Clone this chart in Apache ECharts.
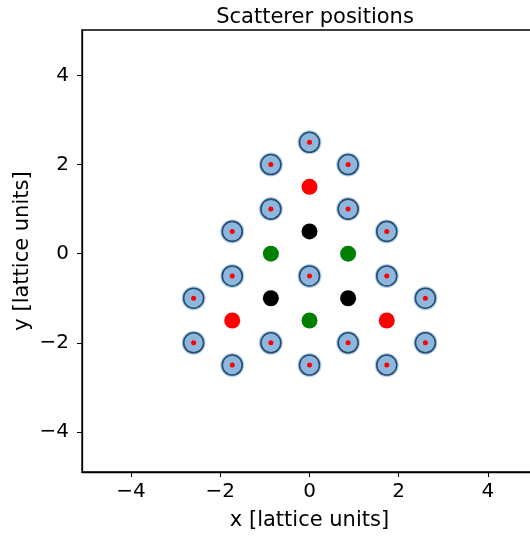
<!DOCTYPE html>
<html><head><meta charset="utf-8">
<script src="https://cdn.jsdelivr.net/npm/echarts@6/dist/echarts.min.js"></script>
<style>html,body{margin:0;padding:0;background:#fff}#c{width:530px;height:539px}</style>
</head><body><div id="c"></div>
<script>
const scattererX = [0, -0.866, 0.866, -0.866, 0.866, -1.732, 1.732, -1.732, 0, 1.732, -2.598, 2.598, -2.598, -0.866, 0.866, 2.598, -1.732, 0, 1.732];
const scattererY = [2.5, 2, 2, 1, 1, 0.5, 0.5, -0.5, -0.5, -0.5, -1, -1, -2, -2, -2, -2, -2.5, -2.5, -2.5];
const redX = [0, -1.732, 1.732];
const redY = [1.5, -1.5, -1.5];
const blackX = [0, -0.866, 0.866];
const blackY = [0.5, -1, -1];
const greenX = [-0.866, 0.866, 0];
const greenY = [0, 0, -1.5];
const xTicks = [-4, -2, 0, 2, 4];
const yTicks = [-4, -2, 0, 2, 4];

const zip = (xs, ys) => xs.map((x, i) => [x, ys[i]]);
const font = 'DejaVu Sans';
const fmt = v => (v < 0 ? '\u2212' + (-v) : '' + v);
const chart = echarts.init(document.getElementById('c'));
chart.setOption({
  animation: false,
  title: { text: 'Scatterer positions', left: 310, top: 2, textAlign: 'center',
    textStyle: { fontFamily: font, fontSize: 21, fontWeight: 'normal', color: '#000' } },
  grid: { left: 82, top: 30, width: 455, height: 442, outerBoundsMode: 'none', containLabel: false,
    show: true, borderColor: '#000', borderWidth: 1.3, backgroundColor: 'transparent' },
  xAxis: {
    type: 'value', min: -5.1, max: 5.1,
    name: 'x [lattice units]', nameLocation: 'middle', nameGap: 38,
    nameTextStyle: { fontFamily: font, fontSize: 21, color: '#000' },
    axisLine: { onZero: false, lineStyle: { color: '#000', width: 1.3 } },
    axisTick: { show: true, length: 5, lineStyle: { color: '#000' }, customValues: xTicks },
    axisLabel: { fontFamily: font, fontSize: 20, color: '#000', margin: 10, customValues: xTicks, formatter: fmt },
    splitLine: { show: false }
  },
  yAxis: {
    type: 'value', min: -4.9, max: 5.02,
    name: 'y [lattice units]', nameLocation: 'middle', nameGap: 49, nameMoveOverlap: false,
    nameTextStyle: { fontFamily: font, fontSize: 21, color: '#000' },
    axisLine: { onZero: false, lineStyle: { color: '#000', width: 1.3 } },
    axisTick: { show: true, length: 5, lineStyle: { color: '#000' }, customValues: yTicks },
    axisLabel: { fontFamily: font, fontSize: 20, color: '#000', margin: 13, customValues: yTicks, formatter: fmt },
    splitLine: { show: false }
  },
  series: [
    { type: 'scatter', data: zip(scattererX, scattererY), symbolSize: 24, silent: true,
      itemStyle: { color: '#b3d0ea', opacity: 1 } },
    { type: 'scatter', data: zip(scattererX, scattererY), symbolSize: 20, silent: true,
      itemStyle: { color: '#8db7dc', borderColor: '#274b6e', borderWidth: 1.6, opacity: 1 } },
    { type: 'scatter', data: zip(scattererX, scattererY), symbolSize: 5, silent: true,
      itemStyle: { color: '#ff0000', opacity: 1 } },
    { type: 'scatter', data: zip(redX, redY), symbolSize: 16, itemStyle: { color: '#ff0000', opacity: 1 } },
    { type: 'scatter', data: zip(blackX, blackY), symbolSize: 16, itemStyle: { color: '#000000', opacity: 1 } },
    { type: 'scatter', data: zip(greenX, greenY), symbolSize: 16, itemStyle: { color: '#008000', opacity: 1 } }
  ]
});
</script></body></html>
